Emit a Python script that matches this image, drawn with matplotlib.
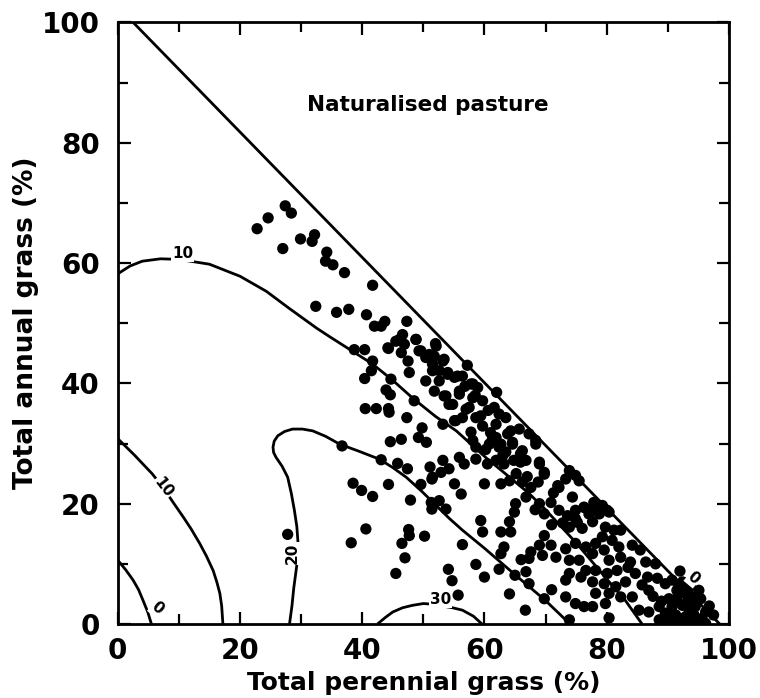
import matplotlib
matplotlib.use("Agg")
import matplotlib.pyplot as plt
from matplotlib.ticker import MultipleLocator

plt.rcParams['font.family'] = ['DejaVu Sans']
plt.rcParams['font.weight'] = 'bold'

# sampled sites: total perennial grass (%) vs total annual grass (%)
perennial = [
    22.8, 24.6, 27.4, 28.4, 27.0, 29.9, 32.2, 31.8, 34.2, 34.0, 35.2, 37.1, 41.7,
    32.4, 35.8, 37.8, 40.7, 42.0, 43.1, 43.7, 47.3, 38.7, 40.4, 41.7, 41.5, 40.4,
    44.3, 44.7, 43.9, 44.6, 48.5, 40.5, 42.3, 44.3, 45.5, 46.6, 46.9, 48.8, 46.4,
    47.5, 47.7, 49.6, 50.4, 51.5, 52.1, 50.4, 51.8, 52.6,
    52.0, 51.8, 53.2, 51.5, 52.6, 54.0, 55.1, 56.4, 53.4, 54.2, 55.9, 57.8, 58.9,
    58.1, 57.5, 59.7, 56.4, 55.1, 53.2, 59.4, 59.7, 61.6, 62.4, 63.5, 61.9, 64.3,
    65.7, 67.3, 68.4, 57.8, 58.1, 61.3, 62.4, 64.6, 63.5, 65.9, 66.8, 69.0, 53.2,
    55.9, 56.7, 58.6, 60.5, 61.9, 63.2, 58.6, 54.2,
    46.1, 48.8, 44.2, 49.3, 51.0, 53.4, 54.0, 55.6, 58.1, 53.7, 55.9, 54.8, 57.0,
    55.3, 58.6,
    44.4, 47.3, 49.8, 49.2, 50.5, 46.4, 44.6, 36.7, 43.1, 45.8, 47.4, 51.1, 51.4,
    38.5, 39.9, 41.7, 44.3, 49.6, 47.9, 51.4, 27.8, 40.6, 38.2, 47.6, 47.7, 50.2,
    46.5, 47.0, 45.5,
    59.4, 59.7, 56.4, 54.1, 54.7, 55.7, 58.6, 60.0, 62.4, 62.7, 64.1, 64.3, 63.2,
    62.7, 65.0, 64.1, 66.7, 66.0, 66.8, 67.3, 69.8, 71.0, 73.9, 73.3, 74.9, 76.3,
    51.5, 52.9, 55.1, 56.2, 60.0, 62.7, 64.1, 66.2, 67.6, 66.8, 65.1, 64.9, 51.3,
    52.6, 53.7, 69.8, 69.0, 70.9, 69.8, 72.0, 73.3, 74.9, 72.2, 73.6, 74.9, 76.3,
    74.9, 73.9, 76.0, 69.8, 70.9, 69.0, 67.6, 67.3, 69.5, 71.7, 73.3, 74.9, 73.9,
    75.5, 73.9, 75.8, 73.3, 76.6, 76.6,
    68.4, 69.0, 69.8, 66.2, 65.9, 63.8, 61.9, 60.8, 62.7, 64.6, 73.9, 75.5, 72.2,
    74.4, 76.3, 79.3, 80.4, 77.1,
    77.7, 78.8, 80.1, 77.7, 79.8, 81.2, 82.3, 79.3, 80.9, 78.2, 77.7, 79.6, 82.0,
    84.2, 85.5, 80.4, 82.3, 83.9, 86.4, 88.0, 78.2, 80.1, 81.7, 84.7, 86.7, 88.3,
    77.7, 79.6, 81.5, 83.1, 78.2, 80.4, 82.3, 79.8, 77.7, 84.2, 86.9, 85.3, 86.9,
    88.6, 90.2, 91.5, 92.4, 91.8, 92.9, 94.0, 95.4, 90.7, 92.4, 93.5, 94.5, 96.2,
    97.5, 88.6, 90.2, 91.8, 93.5, 94.8, 96.2, 89.6, 91.3, 92.9, 94.3, 95.6, 91.5,
    93.2, 93.7, 95.1, 89.6, 90.7, 80.4, 77.9, 79.3,
    56.8, 58.5, 60.6, 61.0, 63.0, 65.2, 67.0, 71.3, 72.8, 75.2, 71.0, 68.3,
    83.5, 85.8, 87.6, 89.0, 90.5, 92.0, 96.8, 57.2, 60.2, 64.8, 68.8, 62.0,
]
annual = [
    65.7, 67.5, 69.5, 68.3, 62.4, 64.0, 64.7, 63.6, 61.8, 60.3, 59.7, 58.4, 56.3,
    52.8, 51.8, 52.3, 51.4, 49.5, 49.5, 50.3, 50.3, 45.6, 45.6, 43.7, 42.1, 40.8,
    45.8, 40.7, 38.9, 38.1, 37.1, 35.8, 35.8, 35.8, 47.0, 48.1, 46.5, 47.3, 45.1,
    43.7, 41.8, 45.4, 44.3, 43.2, 46.2, 40.4, 38.7, 42.1,
    46.6, 44.5, 43.7, 42.1, 40.4, 41.8, 41.0, 41.2, 37.9, 36.5, 38.7, 39.9, 39.3,
    37.6, 36.0, 37.1, 34.3, 33.8, 33.2, 34.6, 32.9, 36.0, 34.9, 34.3, 33.2, 32.1,
    32.4, 31.6, 30.5, 31.9, 30.5, 30.7, 29.4, 30.2, 28.6, 28.3, 27.2, 26.6, 27.2,
    27.7, 26.6, 27.4, 26.6, 27.2, 26.6, 29.4, 25.8,
    47.3, 47.3, 45.9, 45.4, 44.8, 44.0, 41.5, 41.2, 39.9, 37.9, 38.2, 36.5, 35.7,
    33.8, 34.3,
    35.2, 34.3, 32.6, 31.0, 30.2, 30.7, 30.3, 29.6, 27.3, 26.7, 25.8, 26.1, 24.1,
    23.4, 22.2, 21.2, 23.2, 23.2, 20.6, 19.1, 14.9, 15.8, 13.5, 15.7, 14.7, 14.6,
    13.4, 11.0, 8.4,
    17.2, 15.3, 13.2, 9.1, 7.2, 4.8, 9.9, 7.8, 9.1, 15.3, 17.0, 15.3, 12.8,
    11.7, 8.1, 5.0, 2.3, 10.7, 8.7, 6.7, 4.2, 5.7, 0.7, 4.5, 3.4, 2.9,
    24.4, 25.2, 23.3, 21.6, 23.3, 23.3, 23.8, 23.6, 22.7, 21.1, 20.0, 18.6, 20.2,
    20.5, 19.1, 24.9, 20.0, 20.2, 18.3, 23.0, 24.1, 24.7, 18.9, 18.0, 18.9, 19.4,
    17.5, 16.1, 15.9, 14.7, 13.1, 13.1, 12.0, 10.9, 11.4, 11.1, 12.5, 13.4, 10.6,
    10.6, 8.4, 7.8, 7.3, 8.9, 12.8,
    29.9, 26.9, 25.2, 28.8, 26.9, 31.6, 31.0, 29.9, 29.9, 29.9, 25.5, 23.8, 22.7,
    21.1, 19.4, 19.4, 18.6, 18.3,
    19.2, 18.3, 18.9, 17.0, 16.1, 15.6, 15.6, 14.5, 13.9, 13.4, 11.7, 12.3, 12.8,
    13.1, 12.3, 10.6, 11.1, 10.3, 10.3, 10.0, 8.9, 8.4, 8.9, 8.4, 7.8, 7.6,
    7.0, 6.7, 6.2, 7.0, 5.1, 5.1, 4.5, 3.4, 2.9, 4.5, 5.6, 2.3, 2.0,
    2.9, 4.2, 5.6, 7.0, 6.2, 5.1, 4.5, 4.2, 2.9, 3.1, 2.3, 2.9, 2.0,
    1.5, 0.7, 0.4, 0.4, 0.4, 0.4, 0.1, 1.8, 1.5, 1.2, 1.5, 0.9, 4.2,
    3.7, 6.2, 5.6, 6.7, 7.3, 1.0, 20.2, 19.7,
    39.5, 38.0, 35.5, 31.8, 28.0, 25.0, 24.5, 21.8, 16.8, 16.9, 16.5, 19.0,
    9.4, 6.5, 4.6, 3.8, 1.2, 8.8, 3.0, 43.0, 29.0, 27.2, 23.6, 38.5,
]

# contour lines of the fitted surface
c0_edge_x = [2.5, 98.5]
c0_edge_y = [100, 0]
c10_upper_x = [0, 2, 4, 7, 10, 15, 20, 24.3, 28, 32.5, 34.6, 38, 41.7, 45, 48.2,
               52, 55.4, 60.3, 64, 67.3, 70, 75, 80, 83, 85.8]
c10_upper_y = [58.2, 59.5, 60.3, 60.7, 60.6, 59.8, 57.8, 55.3, 52.5, 49.2, 47.8,
               45.6, 43.2, 40.5, 37.6, 34.5, 32.1, 27.6, 24.5, 21.7, 19, 13.5, 7.5, 4, 0]
c10_lower_x = [0, 1.5, 2.8, 4.1, 5.6, 7.4, 9.0, 10.7, 12.0, 13.4, 14.5, 15.6,
               16.2, 16.7, 17.0, 17.2]
c10_lower_y = [30.8, 29.3, 28.0, 26.6, 25.0, 22.7, 20.3, 17.8, 15.8, 13.4, 11.3,
               8.9, 7.0, 5.1, 3.0, 0]
c20_x = [28.1, 28.5, 28.8, 29.3, 29.5, 29.3, 28.9, 28.4, 27.8, 26.9, 25.9, 25.5,
         25.4, 25.6, 26.2, 27.3, 28.6, 30.2, 31.9, 34.0, 36.3, 39.5, 42.8, 45.0,
         47.2, 49.8, 52.1, 54.2, 56.4, 60, 65, 70, 74]
c20_y = [0, 3.0, 6.0, 9.8, 13.4, 16.2, 18.9, 21.7, 24.4, 26.2, 27.7, 28.5, 29.4,
         30.4, 31.3, 32.0, 32.4, 32.4, 32.1, 31.2, 29.9, 28.7, 27.4, 26.0, 24.4,
         22.0, 19.7, 17.6, 15.6, 12.6, 8.2, 3.9, 0]
c30_x = [42.5, 43.8, 45, 46.6, 48.2, 50, 51.5, 53, 54.8, 56.4, 58.2, 59.6]
c30_y = [0, 1.1, 2.0, 2.7, 3.1, 3.4, 3.3, 3.0, 2.7, 2.3, 1.3, 0]
c0_corner_x = [0, 1.3, 2.5, 3.4, 4.1, 4.9, 5.5]
c0_corner_y = [10.6, 9.0, 7.3, 5.7, 4.0, 2.0, 0]

fig = plt.figure(figsize=(7.6, 6.98), dpi=100)
ax = fig.add_axes([0.155, 0.106, 0.804, 0.862])

lw = 2.0
for cx, cy in [(c0_edge_x, c0_edge_y), (c10_upper_x, c10_upper_y),
               (c10_lower_x, c10_lower_y), (c20_x, c20_y), (c30_x, c30_y),
               (c0_corner_x, c0_corner_y)]:
    ax.plot(cx, cy, color='black', lw=lw, solid_capstyle='butt',
            solid_joinstyle='round', zorder=2)

ax.scatter(perennial, annual, s=66, color='black', edgecolors='none', zorder=3)

lab = dict(fontsize=11, fontweight='bold', ha='center', va='center', zorder=4,
           bbox=dict(facecolor='white', edgecolor='none', pad=0.5))
ax.text(10.6, 61.6, '10', **lab)
ax.text(7.4, 22.7, '10', rotation=-52, **lab)
ax.text(28.6, 11.7, '20', rotation=90, **lab)
ax.text(52.8, 4.0, '30', **lab)
ax.text(6.4, 2.6, '0', rotation=-40, **lab)
ax.text(94.2, 7.6, '0', rotation=-40, **lab)

ax.text(50.8, 86.2, 'Naturalised pasture', fontsize=15.5, fontweight='bold',
        ha='center', va='center')

ax.set_xlim(0, 100)
ax.set_ylim(0, 100)
ax.xaxis.set_major_locator(MultipleLocator(20))
ax.yaxis.set_major_locator(MultipleLocator(20))
ax.xaxis.set_minor_locator(MultipleLocator(10))
ax.yaxis.set_minor_locator(MultipleLocator(10))
ax.tick_params(which='both', direction='in', top=True, right=True, width=1.6)
ax.tick_params(which='major', length=9, labelsize=20)
ax.tick_params(axis='x', which='major', pad=9)
ax.tick_params(axis='y', which='major', pad=13)
ax.tick_params(which='minor', length=7)
for sp in ax.spines.values():
    sp.set_linewidth(2.0)
for t in ax.get_xticklabels() + ax.get_yticklabels():
    t.set_fontweight('bold')

ax.set_xlabel('Total perennial grass (%)', fontsize=18, fontweight='bold', labelpad=5)
ax.set_ylabel('Total annual grass (%)', fontsize=19, fontweight='bold', labelpad=2)

fig.savefig('out.png', dpi=100)
